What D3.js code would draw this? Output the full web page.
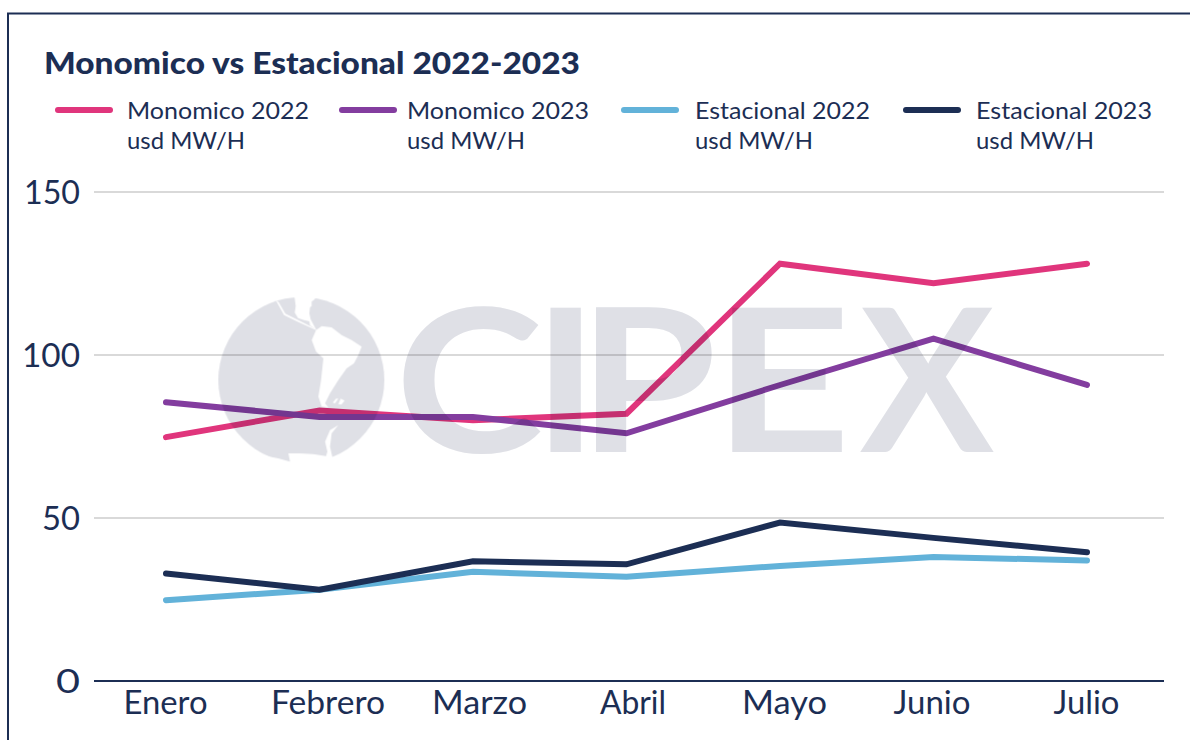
<!DOCTYPE html>
<html><head><meta charset="utf-8">
<script src="https://cdn.jsdelivr.net/npm/d3@7/dist/d3.min.js"></script>
<style>
html,body{margin:0;padding:0;background:#fff;overflow:hidden}
svg{display:block}
text{font-family:Lato,"Noto Sans",sans-serif;fill:#1c2e54}
</style></head><body>
<svg id="c" width="1190" height="740"></svg>
<script>
const months = ["Enero","Febrero","Marzo","Abril","Mayo","Junio","Julio"];
const yTicks = [0,50,100,150];
const monomico2022 = [74.8,83,80,82,128,122,128];
const monomico2023 = [85.5,81,81,76,90.8,105,90.8];
const estacional2022 = [24.8,28,33.5,32,35.3,38,37];
const estacional2023 = [33,28,36.7,35.8,48.6,43.9,39.5];
const seriesNames = ["Monomico 2022","Monomico 2023","Estacional 2022","Estacional 2023"];
const seriesValues = [monomico2022,monomico2023,estacional2022,estacional2023];
const seriesColors = ["#e0357c","#833d9f","#62b2d9","#1c2e54"];
const unitLabel = "usd MW/H";
const titleText = "Monomico vs Estacional 2022-2023";

const svg = d3.select("#c");
const x = d3.scalePoint().domain(months).range([166,1087]);
const y = d3.scaleLinear().domain([0,150]).range([681,192]);

// frame
svg.append("path").attr("d","M8,740V13.5H1190").attr("fill","none").attr("stroke","#1c2e54").attr("stroke-width",2);

// title
svg.append("text").attr("x",44).attr("y",74).attr("font-size",30).attr("font-weight",900)
  .attr("textLength",536).attr("lengthAdjust","spacingAndGlyphs").text(titleText);

// legend
const legendX = [56,340,622,904], legendTextX=[127,407,695,976], legendW=[182,182,175,176];
seriesNames.forEach((n,i)=>{
  svg.append("line").attr("x1",legendX[i]+2).attr("x2",legendX[i]+54).attr("y1",110).attr("y2",110)
    .attr("stroke",seriesColors[i]).attr("stroke-width",6).attr("stroke-linecap","round");
  svg.append("text").attr("x",legendTextX[i]).attr("y",119).attr("font-size",24)
    .attr("textLength",legendW[i]).attr("lengthAdjust","spacingAndGlyphs").text(n);
  svg.append("text").attr("x",legendTextX[i]).attr("y",149).attr("font-size",24)
    .attr("textLength",118).attr("lengthAdjust","spacingAndGlyphs").text(unitLabel);
});

// grid + y labels
const yLabelW = {0:24,50:38,100:58,150:56};
const yAxis = d3.axisLeft(y).tickValues(yTicks).tickSize(0).tickPadding(14);
const gy = svg.append("g").attr("transform","translate(94,0)").call(yAxis);
gy.select(".domain").remove();
gy.selectAll("text").attr("font-size",32).attr("font-family",null)
  .attr("transform","translate(0,1)")
  .attr("textLength",d=>yLabelW[d]).attr("lengthAdjust","spacingAndGlyphs");
svg.append("g").selectAll("line").data(yTicks.filter(d=>d>0)).join("line")
  .attr("x1",94).attr("x2",1164).attr("y1",d=>y(d)).attr("y2",d=>y(d))
  .attr("stroke","#d9d9d9").attr("stroke-width",2);

// x axis
const labelNudge = [-1,8,6,6,4,-2,-1];
const labelW = [84,114,95,66,85,77,66];
const xAxis = d3.axisBottom(x).tickSize(0).tickPadding(10);
const gx = svg.append("g").attr("transform","translate(0,681)").call(xAxis);
gx.select(".domain").remove();
gx.selectAll("text").attr("font-size",32).attr("font-family",null)
  .attr("dx",(d,i)=>labelNudge[i])
  .attr("textLength",(d,i)=>labelW[i]).attr("lengthAdjust","spacingAndGlyphs");
svg.append("line").attr("x1",94).attr("x2",1164).attr("y1",681).attr("y2",681).attr("stroke","#1c2e54").attr("stroke-width",2);

// series
const line = d3.line().x((d,i)=>x(months[i])).y(d=>y(d));
svg.append("g").selectAll("path").data(seriesValues).join("path")
  .attr("d",line).attr("fill","none").attr("stroke",(d,i)=>seriesColors[i])
  .attr("stroke-width",6).attr("stroke-linecap","round").attr("stroke-linejoin","miter");

// watermark (multiplied over the chart)
const wm = svg.append("g").style("mix-blend-mode","multiply");
const globe = wm.append("g").attr("transform","translate(210,290) scale(.33333)");
globe.append("circle").attr("cx",274).attr("cy",270).attr("r",249).attr("fill","#dfe0e6");
const land = [
 "M318,120L335,108L365,112L395,135L425,150L455,170L445,195L432,220L410,235L385,270L360,310L345,340L355,352L335,350L325,320L333,270L340,205L318,185L305,150Z",
 "M252,10L257,48L254,68L264,84L282,90L298,94L300,106L318,118L302,88L298,70L300,52L305,48L305,35L314,28L320,10Z",
 "M385,405L360,420L345,455L352,485L348,498L310,492L270,490L235,490L240,515L205,505L170,498L170,560L370,560L368,505L360,470L365,430Z",
 "M368,338L378,326L385,326L375,340Z M385,342L392,326L404,332L394,344Z",
 "M197,30L206,36L226,71L262,89L318,117L318,120L262,95L222,75Z"
];
globe.selectAll("path").data(land).join("path").attr("d",d=>d).attr("fill","#fff");
wm.append("text").attr("transform","translate(0,452) scale(1.12,1)")
  .attr("x","352.7 475.5 516").attr("font-size",200).attr("font-weight",700).style("fill","#dfe0e6").text("CIP");
wm.append("text").attr("transform","translate(713,452) scale(1.2,1)")
  .attr("font-size",200).attr("font-weight",700).style("fill","#dfe0e6").text("E");
wm.append("text").attr("transform","translate(860,452)")
  .attr("font-size",200).attr("font-weight",700).style("fill","#dfe0e6").text("X");
</script>
</body></html>
